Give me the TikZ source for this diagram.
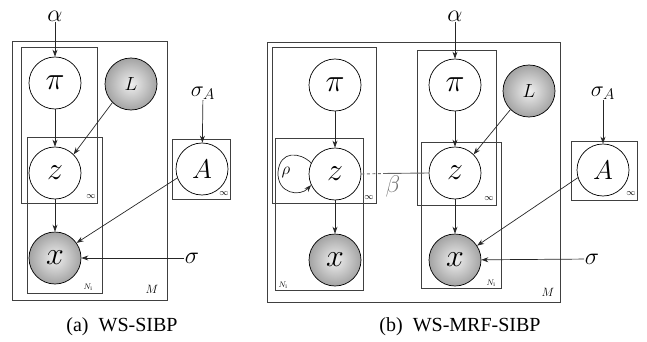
\RequirePackage{fix-cm}
\documentclass[tikz,border=0pt]{standalone}
\usepackage{fontspec}
\setmainfont{Liberation Serif}
\usetikzlibrary{arrows.meta}
\begin{document}
\begin{tikzpicture}[x=1pt,y=-1pt,
  lat/.style={circle,draw=black,line width=0.7pt,fill=white,minimum size=52pt,inner sep=0pt,font=\fontsize{32}{32}\selectfont},
  obs/.style={lat,shading=radial,inner color=gray!12,outer color=gray!72},
  platebox/.style={draw=black!75,line width=0.9pt},
  arr/.style={-{Stealth[length=7pt,width=5pt]},line width=0.7pt,black!85},
  plab/.style={inner sep=0pt,font=\fontsize{9}{9}\selectfont},
  hyp/.style={inner sep=0.5pt,font=\fontsize{24}{24}\selectfont}]
\useasboundingbox (0,0) rectangle (647,342);

% ---------------- (a) ----------------
\draw[platebox] (12,41) rectangle (167,300);
\draw[platebox] (21,47) rectangle (97,203);
\draw[platebox] (27,137) rectangle (102,293);
\draw[platebox] (172,139) rectangle (230,199);
\node[plab] (ainf) at (91,197) {$\infty$};
\node[plab,font=\fontsize{8}{8}\selectfont] (aN) at (88,287) {$N_{\mathrm{i}}$};
\node[plab,font=\fontsize{12}{12}\selectfont] (aM) at (152,289) {$M$};
\node[plab] (aAinf) at (224,194) {$\infty$};

\node[lat] (api) at (55,83) {$\pi$};
\node[obs,font=\fontsize{19}{19}\selectfont] (aL) at (131,84) {$L$};
\node[lat] (az) at (55,173) {$z$};
\node[obs] (ax) at (55,258) {$x$};
\node[lat,font=\fontsize{27}{27}\selectfont] (aA) at (202,169) {$A$};
\node[hyp] (aalpha) at (55,16) {$\alpha$};
\node[hyp,font=\fontsize{22}{22}\selectfont] (asigA) at (203,93) {$\sigma_A$};
\node[hyp] (asig) at (192,258) {$\sigma$};

\draw[arr] (aalpha) -- (api);
\draw[arr] (api) -- (az);
\draw[arr] (az) -- (ax);
\draw[arr] (aL.225) -- (az.45);
\draw[arr] (aA.200) -- (ax.35);
\draw[arr] (asig) -- (ax);
\draw[arr] (asigA) -- (aA);

% ---------------- (b) ----------------
\draw[platebox] (267,42) rectangle (560,302);
\draw[platebox] (272,47) rectangle (376,203);
\draw[platebox] (275,138) rectangle (363,290);
\draw[platebox] (417,50) rectangle (496,205);
\draw[platebox] (421,142) rectangle (501,288);
\draw[platebox] (571,141) rectangle (637,200);
\node[plab] (binfL) at (369,198) {$\infty$};
\node[plab,font=\fontsize{8}{8}\selectfont] (bNL) at (283,285) {$N_{\mathrm{i}}$};
\node[plab] (binfR) at (489,199) {$\infty$};
\node[plab,font=\fontsize{8}{8}\selectfont] (bNR) at (491,283) {$N_{\mathrm{i}}$};
\node[plab,font=\fontsize{12}{12}\selectfont] (bM) at (548,292) {$M$};
\node[plab] (bAinf) at (631,194) {$\infty$};

\node[lat] (bpiL) at (335,85) {$\pi$};
\node[lat] (bzL) at (335,174) {$z$};
\node[obs] (bxL) at (335,260) {$x$};
\node[lat] (bpiR) at (455,85) {$\pi$};
\node[lat] (bzR) at (455,173) {$z$};
\node[obs] (bxR) at (455,260) {$x$};
\node[obs,font=\fontsize{19}{19}\selectfont] (bL) at (529,91) {$L$};
\node[lat,font=\fontsize{27}{27}\selectfont] (bA) at (603,170) {$A$};
\node[hyp] (balpha) at (455,16) {$\alpha$};
\node[hyp,font=\fontsize{22}{22}\selectfont] (bsigA) at (603,93) {$\sigma_A$};
\node[hyp] (bsig) at (592,259) {$\sigma$};
\node[hyp,font=\fontsize{17}{17}\selectfont] (brho) at (286,172) {$\rho$};
\node[hyp,text=black!55] (bbeta) at (393,186) {$\beta$};
\coordinate (bmid) at (383,173.5);

\draw[arr] (bpiL) -- (bzL);
\draw[arr] (bzL) -- (bxL);
\draw[arr] (balpha) -- (bpiR);
\draw[arr] (bpiR) -- (bzR);
\draw[arr] (bzR) -- (bxR);
\draw[arr] (bL.225) -- (bzR.45);
\draw[arr] (bA.197) -- (bxR.33);
\draw[arr] (bsig) -- (bxR);
\draw[arr] (bsigA) -- (bA);
\draw[arr] (bzL.155) .. controls (300,152) and (280,150) .. (278,172)
                     .. controls (277,194) and (300,197) .. (bzL.205);
\draw[black!55,line width=0.9pt,dash pattern=on 3pt off 2.5pt] (bzL.east) -- (bmid);
\draw[black!60,line width=0.9pt] (bmid) -- (bzR.west);

% ---------------- captions ----------------
\node[font=\fontsize{20}{24}\selectfont] (capa) at (122,327) {(a)\ \ WS-SIBP};
\node[font=\fontsize{20}{24}\selectfont] (capb) at (460,327) {(b)\ \ WS-MRF-SIBP};
\end{tikzpicture}
\end{document}
